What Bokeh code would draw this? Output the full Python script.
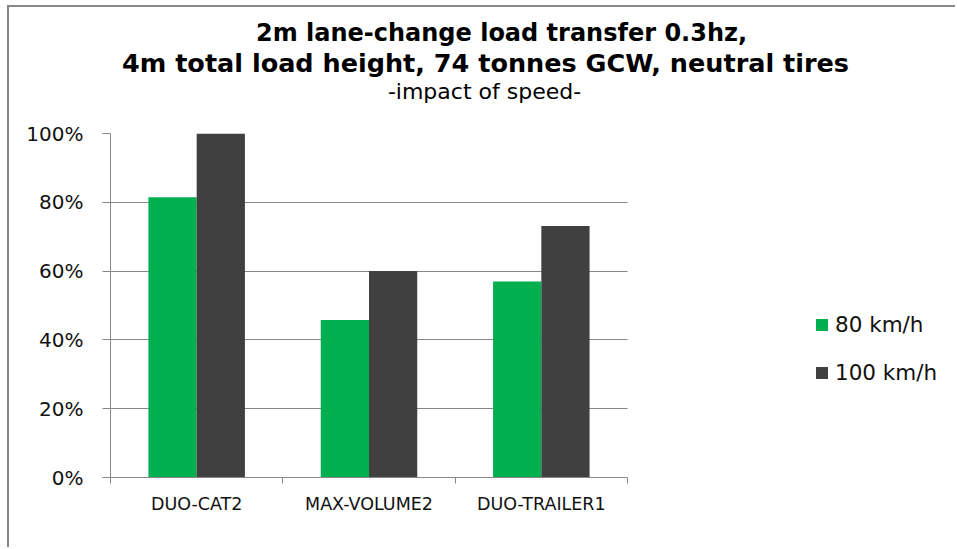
from bokeh.plotting import figure
from bokeh.models import (Range1d, FixedTicker, NumeralTickFormatter, Label, Legend,
                          LegendItem, ColumnDataSource)
from bokeh.transform import dodge
from bokeh.embed import file_html
from bokeh.resources import INLINE

categories = ["DUO-CAT2", "MAX-VOLUME2", "DUO-TRAILER1"]
series_names = ["80 km/h", "100 km/h"]
speed_80 = [0.815, 0.458, 0.570]
speed_100 = [1.000, 0.600, 0.731]
y_ticks = [0, 0.2, 0.4, 0.6, 0.8, 1.0]
title_lines = ["2m lane-change load transfer 0.3hz,",
               "4m total load height, 74 tonnes GCW, neutral tires"]
subtitle = "-impact of speed-"

GREEN = "#00B050"
DARK = "#404040"
GRID = "#878787"
FONT = "DejaVu Sans"

W, H = 948, 542
LEFT, TOP, BOTTOM = 101, 126, 72
PLOT_PX = 517                       # pixel width of the category area
n = len(categories)
x_end = n * (W - LEFT) / PLOT_PX    # frame runs to the right edge (legend lives there)

centers = [i + 0.5 for i in range(n)]
src = ColumnDataSource(dict(x=centers, a=speed_80, b=speed_100))

p = figure(width=W, height=H, output_backend="svg", toolbar_location=None,
           x_range=Range1d(0, x_end), y_range=Range1d(0, 1),
           min_border_left=LEFT, min_border_right=0, min_border_top=TOP,
           min_border_bottom=BOTTOM)
p.styles = {"margin-left": "7px", "margin-top": "5px",
            "border-left": "2px solid #878787", "border-top": "2px solid #878787"}
p.outline_line_color = None
p.background_fill_color = "white"
p.border_fill_color = "white"

# horizontal grid restricted to the category area
p.xgrid.grid_line_color = None
p.ygrid.ticker = FixedTicker(ticks=y_ticks)
p.ygrid.grid_line_color = GRID
try:
    p.ygrid.cross_bounds = (0, n)
except AttributeError:
    p.ygrid.grid_line_color = None
    p.segment(x0=[0] * len(y_ticks), x1=[n] * len(y_ticks), y0=y_ticks, y1=y_ticks,
              line_color=GRID, line_width=1)

r1 = p.vbar(x=dodge("x", -0.14, range=p.x_range), top="a", width=0.28, source=src,
            fill_color=GREEN, line_color=None)
r2 = p.vbar(x=dodge("x", 0.14, range=p.x_range), top="b", width=0.28, source=src,
            fill_color=DARK, line_color=None)

# y axis
p.yaxis.ticker = FixedTicker(ticks=y_ticks)
p.yaxis.formatter = NumeralTickFormatter(format="0%")
p.yaxis.axis_line_color = GRID
p.yaxis.major_tick_line_color = GRID
p.yaxis.major_tick_out = 8
p.yaxis.major_tick_in = 0
p.yaxis.minor_tick_line_color = None
p.yaxis.major_label_standoff = 19
p.yaxis.major_label_text_font = FONT
p.yaxis.major_label_text_font_size = "20px"
p.yaxis.major_label_text_color = "#111111"

# x axis
p.xaxis.bounds = (0, n)
p.xaxis.ticker = FixedTicker(ticks=centers, minor_ticks=list(range(n + 1)))
p.xaxis.major_label_overrides = {c: name for c, name in zip(centers, categories)}
p.xaxis.axis_line_color = GRID
p.xaxis.major_tick_line_color = None
p.xaxis.major_tick_out = 6
p.xaxis.minor_tick_line_color = GRID
p.xaxis.minor_tick_out = 6
p.xaxis.minor_tick_in = 0
p.xaxis.major_label_standoff = 10
p.xaxis.major_label_text_font = FONT
p.xaxis.major_label_text_font_size = "17.5px"
p.xaxis.major_label_text_color = "#111111"

# titles (in the "above" panel so they are not clipped to the frame)
title_specs = [(title_lines[0], 490, 23, "24px"), (title_lines[1], 474, 53, "25.5px")]
for txt, xx, yy, fs in title_specs:
    p.add_layout(Label(x=xx, y=yy, x_units="canvas", y_units="canvas", text=txt,
                       text_align="center", text_baseline="alphabetic", text_font=FONT,
                       text_font_style="bold", text_font_size=fs,
                       text_color="#000000"), "above")
p.add_layout(Label(x=473, y=82, x_units="canvas", y_units="canvas", text=subtitle,
                   text_align="center", text_baseline="alphabetic", text_font=FONT,
                   text_font_size="22px", text_color="#000000"), "above")

legend = Legend(items=[LegendItem(label=series_names[0], renderers=[r1]),
                       LegendItem(label=series_names[1], renderers=[r2])],
                location=(704, 92), orientation="vertical")
legend.padding = 0
legend.margin = 0
legend.border_line_color = None
legend.background_fill_alpha = 0
legend.glyph_width = 15
legend.glyph_height = 15
legend.label_height = 24
legend.spacing = 23
legend.label_standoff = 6
legend.label_text_font = FONT
legend.label_text_font_size = "21.5px"
legend.label_text_color = "#111111"
p.add_layout(legend, "center")

open("out.html", "w").write(file_html(p, INLINE))
